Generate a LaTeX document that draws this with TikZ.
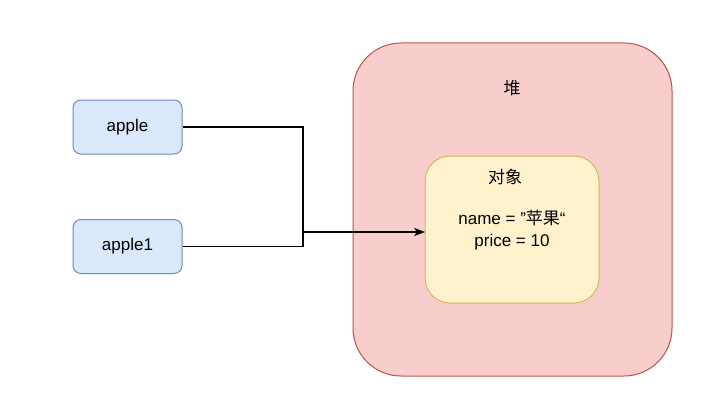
\documentclass[tikz,border=0pt]{standalone}
\usepackage{fontspec}
\setmainfont{Liberation Sans}
\newfontfamily\cjk{Noto Sans CJK SC}
\usetikzlibrary{arrows.meta}
\definecolor{heapfill}{HTML}{F8CECC}
\definecolor{heapdraw}{HTML}{B85450}
\definecolor{objfill}{HTML}{FFF2CC}
\definecolor{objdraw}{HTML}{D6B656}
\definecolor{varfill}{HTML}{DAE8FC}
\definecolor{vardraw}{HTML}{6C8EBF}
\tikzset{
  varbox/.style={draw=vardraw, fill=varfill, rounded corners=8pt, minimum width=109pt, minimum height=54pt, inner sep=0pt, font=\fontsize{17}{21}\selectfont, line width=1pt},
  txt/.style={inner sep=0pt, font=\fontsize{17}{22}\selectfont, align=center},
  conn/.style={line width=1.1pt, black}
}
\begin{document}
\begin{tikzpicture}[x=1pt, y=-1pt]
\useasboundingbox (0,0) rectangle (711,412);
\fill[white] (0,0) rectangle (711,412);
% heap
\draw[heapdraw, fill=heapfill, rounded corners=48pt, line width=1pt] (353,43) rectangle (672,376);
\node[txt] (heap) at (512,88) {\cjk 堆};
% object
\draw[objdraw, fill=objfill, rounded corners=25pt, line width=1pt] (425,156) rectangle (599,303);
\coordinate (objleft) at (425,232);
\node[txt] (objt) at (505,177) {\cjk 对象};
\node[txt] (objbody) at (512,230) {name = ”{\cjk 苹果}“\\price = 10};
% variables
\node[varbox] (apple) at (127.5,127) {apple};
\node[varbox] (apple1) at (127.5,246.5) {apple1};
\coordinate (j) at (303,232);
\draw[conn] (apple.east) -| (j);
\draw[conn] (apple1.east) -| (j);
\draw[conn, -{Stealth[length=11pt, width=8pt, inset=3pt]}] (j) -- (objleft);
\end{tikzpicture}
\end{document}
